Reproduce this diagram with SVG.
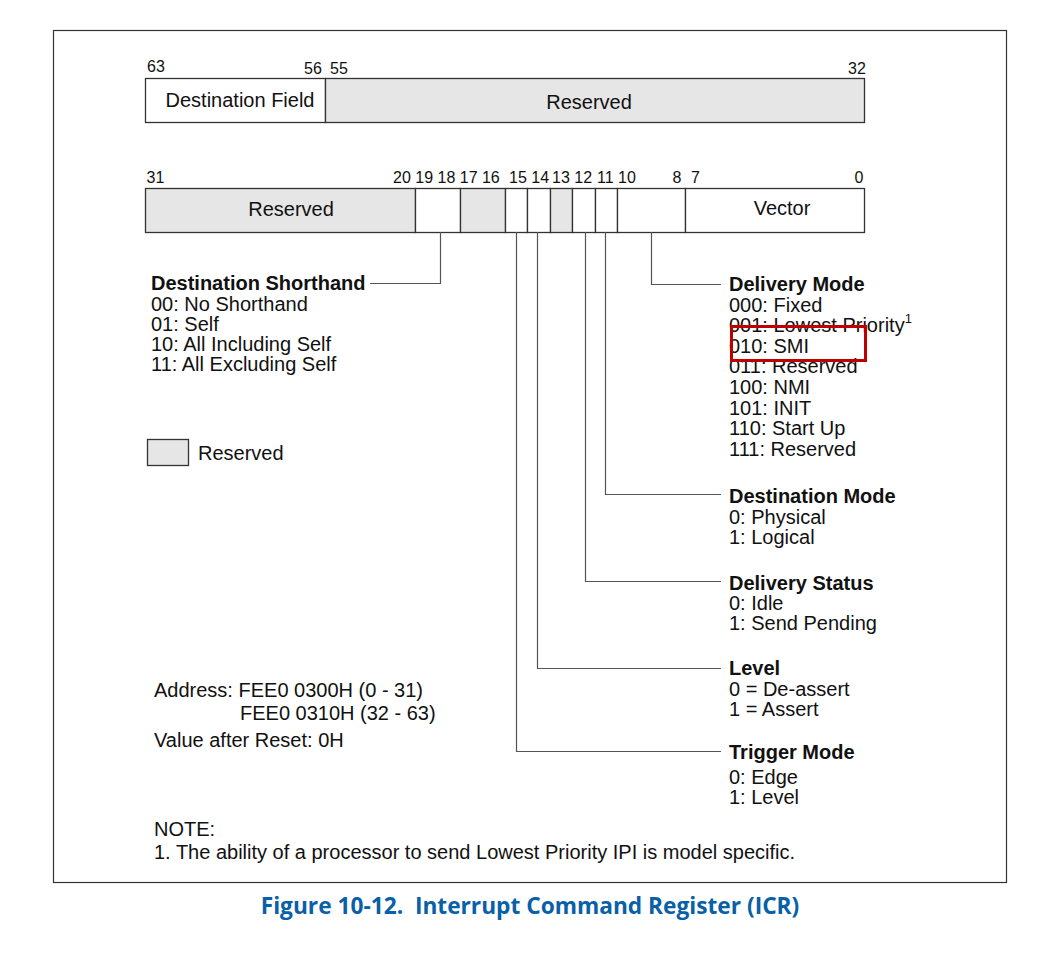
<svg xmlns="http://www.w3.org/2000/svg" width="1059" height="976" viewBox="0 0 1059 976">
<style>
.t{font-family:"Liberation Sans",Arial,sans-serif;font-size:20px;fill:#111}
.b{font-weight:bold}
.n{font-family:"Liberation Sans",Arial,sans-serif;font-size:16px;fill:#111}
.cell{stroke:#333;stroke-width:1.3;fill:#fff}
.res{fill:#e6e6e6}
.con{fill:none;stroke:#555;stroke-width:1.2}
</style>
<rect x="0" y="0" width="1059" height="976" fill="#fff"/>
<rect id="frame" x="53.5" y="30.5" width="953" height="852" fill="none" stroke="#333" stroke-width="1.2"/>

<g id="reg-high">
<rect class="cell" x="145.5" y="78.5" width="180" height="44"/>
<rect class="cell res" x="325.5" y="78.5" width="539" height="44"/>
<text class="t" x="240" y="107" text-anchor="middle">Destination Field</text>
<text class="t" x="589" y="109" text-anchor="middle">Reserved</text>
<text class="n" x="147" y="72">63</text>
<text class="n" x="304" y="74">56</text>
<text class="n" x="330" y="74">55</text>
<text class="n" x="848" y="74">32</text>
</g>

<g id="reg-low">
<rect class="cell res" x="145.5" y="188.5" width="270" height="44"/>
<rect class="cell" x="415.5" y="188.5" width="45" height="44"/>
<rect class="cell res" x="460.5" y="188.5" width="45" height="44"/>
<rect class="cell" x="505.5" y="188.5" width="22" height="44"/>
<rect class="cell" x="527.5" y="188.5" width="23" height="44"/>
<rect class="cell res" x="550.5" y="188.5" width="22" height="44"/>
<rect class="cell" x="572.5" y="188.5" width="23" height="44"/>
<rect class="cell" x="595.5" y="188.5" width="22" height="44"/>
<rect class="cell" x="617.5" y="188.5" width="68" height="44"/>
<rect class="cell" x="685.5" y="188.5" width="179" height="44"/>
<text class="t" x="291" y="216" text-anchor="middle">Reserved</text>
<text class="t" x="782" y="215" text-anchor="middle">Vector</text>
<text class="n" x="146.5" y="183">31</text>
<text class="n" x="393" y="183">20 19 18 17 16</text>
<text class="n" x="509" y="183">15 14</text>
<text class="n" x="552" y="183">13 12</text>
<text class="n" x="597" y="183">11 10</text>
<text class="n" x="672.5" y="183">8</text>
<text class="n" x="691" y="183">7</text>
<text class="n" x="854.5" y="183">0</text>
</g>

<g id="connectors">
<polyline class="con" points="440.5,232 440.5,283.5 370,283.5"/>
<polyline class="con" points="651.5,232 651.5,284.5 721,284.5"/>
<polyline class="con" points="605.5,232 605.5,494.5 721,494.5"/>
<polyline class="con" points="585.5,232 585.5,581.5 721,581.5"/>
<polyline class="con" points="537.5,232 537.5,668.5 721,668.5"/>
<polyline class="con" points="516.5,232 516.5,751.5 721,751.5"/>
</g>

<g id="dest-shorthand">
<text class="t b" x="151" y="290">Destination Shorthand</text>
<text class="t" x="151" y="311">00: No Shorthand</text>
<text class="t" x="151" y="331">01: Self</text>
<text class="t" x="151" y="351">10: All Including Self</text>
<text class="t" x="151" y="371">11: All Excluding Self</text>
</g>

<g id="legend">
<rect class="cell res" x="147.5" y="439.5" width="41" height="26"/>
<text class="t" x="198" y="460">Reserved</text>
</g>

<g id="delivery-mode">
<text class="t b" x="729" y="291">Delivery Mode</text>
<text class="t" x="729" y="312">000: Fixed</text>
<text class="t" x="729" y="332">001: Lowest Priority<tspan font-size="13" dy="-9">1</tspan></text>
<text class="t" x="729" y="353">010: SMI</text>
<text class="t" x="729" y="373">011: Reserved</text>
<text class="t" x="729" y="394">100: NMI</text>
<text class="t" x="729" y="415">101: INIT</text>
<text class="t" x="729" y="435">110: Start Up</text>
<text class="t" x="729" y="456">111: Reserved</text>
</g>

<g id="destination-mode">
<text class="t b" x="729" y="503">Destination Mode</text>
<text class="t" x="729" y="524">0: Physical</text>
<text class="t" x="729" y="544">1: Logical</text>
</g>

<g id="delivery-status">
<text class="t b" x="729" y="590">Delivery Status</text>
<text class="t" x="729" y="610">0: Idle</text>
<text class="t" x="729" y="630">1: Send Pending</text>
</g>

<g id="level">
<text class="t b" x="729" y="675">Level</text>
<text class="t" x="729" y="696">0 = De-assert</text>
<text class="t" x="729" y="716">1 = Assert</text>
</g>

<g id="trigger-mode">
<text class="t b" x="729" y="759">Trigger Mode</text>
<text class="t" x="729" y="784">0: Edge</text>
<text class="t" x="729" y="804">1: Level</text>
</g>

<g id="address">
<text class="t" x="154" y="697">Address: FEE0 0300H (0 - 31)</text>
<text class="t" x="240" y="720">FEE0 0310H (32 - 63)</text>
<text class="t" x="154" y="747">Value after Reset: 0H</text>
</g>

<g id="note">
<text class="t" x="154" y="836">NOTE:</text>
<text class="t" x="154" y="859">1. The ability of a processor to send Lowest Priority IPI is model specific.</text>
</g>

<rect id="highlight" x="731.5" y="326.5" width="134" height="34" fill="none" stroke="#c00000" stroke-width="3"/>

<text id="caption" x="530" y="914" text-anchor="middle" font-family="'Open Sans','Noto Sans',sans-serif" font-weight="bold" font-size="22.7" fill="#0860a8">Figure 10-12.&#160; Interrupt Command Register (ICR)</text>
</svg>
